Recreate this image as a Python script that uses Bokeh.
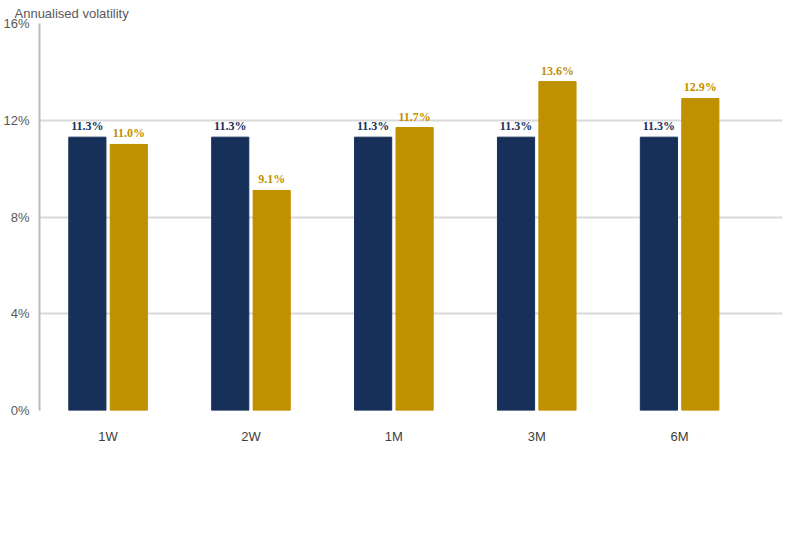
from bokeh.plotting import figure
from bokeh.models import ColumnDataSource, Legend, LegendItem, FixedTicker, LabelSet, Div
from bokeh.layouts import column
from bokeh.embed import file_html
from bokeh.resources import INLINE

categories = ["1W", "2W", "1M", "3M", "6M"]
implied = [11.3, 11.3, 11.3, 11.3, 11.3]
realised = [11.0, 9.1, 11.7, 13.6, 12.9]
y_ticks = [0, 4, 8, 12, 16]

NAVY = "#17305A"
GOLD = "#BF9000"
FONT = "Liberation Sans"

xs = list(range(len(categories)))
off = 0.145
w = 0.26
src1 = ColumnDataSource(dict(x=[i - off for i in xs], y=implied, lab=[f"{v:.1f}%" for v in implied]))
src2 = ColumnDataSource(dict(x=[i + off for i in xs], y=realised, lab=[f"{v:.1f}%" for v in realised]))

p = figure(frame_width=743, frame_height=387, output_backend="svg", toolbar_location=None,
           x_range=(-0.48, 4.72), y_range=(0, 16),
           min_border_left=39, min_border_right=5, min_border_top=10, min_border_bottom=0)
p.outline_line_color = None

r1 = p.vbar(x="x", top="y", width=w, source=src1, color=NAVY)
r2 = p.vbar(x="x", top="y", width=w, source=src2, color=GOLD)

p.add_layout(LabelSet(x="x", y="y", text="lab", source=src1, text_align="center", y_offset=4,
                      text_font=FONT, text_font_size="12px", text_font_style="bold", text_color=NAVY))
p.add_layout(LabelSet(x="x", y="y", text="lab", source=src2, text_align="center", y_offset=4,
                      text_font=FONT, text_font_size="12px", text_font_style="bold", text_color=GOLD))

p.xaxis.ticker = FixedTicker(ticks=xs)
p.xaxis.major_label_overrides = {i: c for i, c in enumerate(categories)}
p.xaxis.axis_line_color = None
p.xaxis.major_tick_line_color = None
p.xaxis.minor_tick_line_color = None
p.xaxis.major_label_text_font = FONT
p.xaxis.major_label_text_font_size = "13px"
p.xaxis.major_label_text_color = "#404040"
p.xaxis.major_label_standoff = 12

p.yaxis.ticker = FixedTicker(ticks=y_ticks)
p.yaxis.major_label_overrides = {t: f"{t}%" for t in y_ticks}
p.yaxis.axis_line_color = "#BBBBBB"
p.yaxis.axis_line_width = 2
p.yaxis.major_tick_line_color = None
p.yaxis.minor_tick_line_color = None
p.yaxis.major_label_text_font = FONT
p.yaxis.major_label_text_font_size = "13px"
p.yaxis.major_label_text_color = "#595959"
p.yaxis.major_label_standoff = 4

p.xgrid.grid_line_color = None
p.ygrid.grid_line_color = "#D9D9D9"
p.ygrid.grid_line_width = 2

p.title.text = "Annualised volatility"
p.title.text_font = FONT
p.title.text_font_size = "13px"
p.title.text_font_style = "normal"
p.title.text_color = "#595959"
p.title.offset = -25
p.title.standoff = 6

legend = Legend(items=[LegendItem(label="3M ATM IV priced during intervention", renderers=[r1]),
                       LegendItem(label="Subsequent realised volatility", renderers=[r2])],
                orientation="horizontal", location="center", spacing=65,
                label_text_font=FONT, label_text_font_size="12px", label_text_color="#404040",
                glyph_width=12, glyph_height=12, border_line_color=None, margin=8, padding=6)
p.add_layout(legend, "below")

note = Div(text=("Source: Bloomberg, Japanese Ministry of Finance, Markets &amp; Spencer calculations. "
                 "Note: Intervention dates are grouped into campaigns where<br>"
                 "multiple operations occurred within the same episode."),
           width=780, styles={"font-family": FONT, "font-size": "11px", "font-style": "italic",
                              "color": "#595959", "line-height": "13px", "margin-left": "10px"})

open("out.html", "w").write(file_html(column(p, note, spacing=0), INLINE))
